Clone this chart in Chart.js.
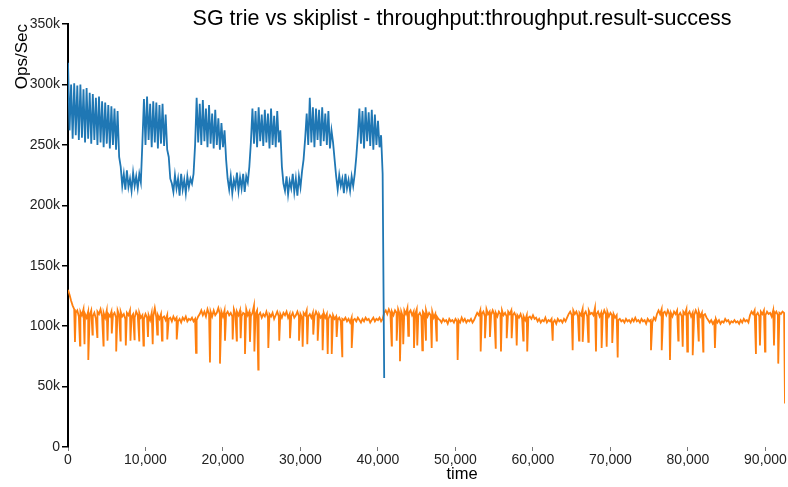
<!DOCTYPE html>
<html>
<head>
<meta charset="utf-8">
<script src="https://cdn.jsdelivr.net/npm/chart.js@4.4.1/dist/chart.umd.min.js"></script>
<style>
  html, body { margin: 0; padding: 0; background: #fff; }
  #wrap { width: 788px; height: 487px; }
</style>
</head>
<body>
<div id="wrap"><canvas id="chart" width="788" height="487"></canvas></div>
<script>
// SG trie throughput (k ops/sec), one sample every 200 time units
const trieStep = 200;
const trieOps = [
  318,262,300,255,301,258,299,254,300,256,
  296,252,297,255,293,251,292,254,289,250,
  290,252,286,248,285,251,283,247,282,250,
  280,246,278,240,232,216,226,213,229,215,
  222,212,227,216,224,214,226,219,252,288,
  250,290,254,284,248,286,252,285,247,283,
  251,284,249,275,246,240,222,218,211,225,
  214,222,208,226,213,221,210,224,215,222,
  218,226,250,289,252,284,250,287,253,280,
  248,283,251,276,247,279,250,272,246,268,
  248,262,238,222,213,224,210,221,215,227,
  212,223,214,226,211,224,219,232,252,280,
  251,278,248,281,253,275,249,279,252,276,
  247,280,250,274,248,278,252,262,232,218,
  212,224,209,220,214,226,211,222,208,224,
  215,228,238,255,276,250,289,252,281,248,
  280,254,279,249,281,253,276,250,278,247,
  262,252,238,224,213,225,216,222,210,226,
  214,221,212,224,216,226,240,258,280,251,
  278,247,281,253,277,249,279,246,275,250,
  270,248,258,226,57
];

// skiplist throughput (k ops/sec), base level every 200 time units
const skipStep = 200;
const skipBase = [
  130,126,121,117,114,111,113,108,112,109,
  114,110,107,112,109,113,108,111,106,112,
  110,114,108,111,107,113,110,108,112,109,
  111,107,113,109,112,108,110,106,111,109,
  113,108,110,107,112,109,111,107,109,106,
  110,107,109,105,111,108,115,107,109,106,
  110,107,108,105,109,106,107,104,108,105,
  107,104,106,103,107,105,108,104,106,105,
  107,104,106,105,108,110,113,109,112,108,
  114,110,112,108,113,109,111,115,110,112,
  108,113,110,112,109,111,108,114,110,112,
  109,113,108,111,110,114,109,112,108,111,
  117,110,113,109,111,107,110,108,112,107,
  110,108,111,106,109,112,108,110,107,111,
  109,112,107,110,108,111,107,109,112,108,
  110,107,111,109,113,108,110,107,111,108,
  112,109,110,107,109,111,107,110,106,109,
  107,109,106,108,105,107,104,106,105,107,
  104,106,103,107,105,106,104,107,105,103,
  106,104,107,105,106,103,105,107,104,106,
  105,107,104,106,111,113,110,114,111,112,
  109,113,111,114,110,112,108,113,110,115,
  111,113,109,112,110,114,109,111,108,112,
  110,113,108,111,109,112,107,110,108,106,
  105,103,106,104,105,102,106,104,105,103,
  106,104,105,103,107,104,106,103,105,104,
  106,103,105,108,111,109,113,110,112,108,
  114,110,112,109,113,110,111,108,112,110,
  113,109,111,108,112,110,113,109,111,108,
  109,107,110,106,108,105,109,107,108,106,
  109,106,107,104,106,103,105,104,107,103,
  105,104,106,103,105,102,106,104,105,103,
  106,104,107,110,112,109,113,110,112,108,
  111,109,114,110,112,108,113,110,111,109,
  115,110,112,108,111,109,113,110,112,108,
  111,109,110,107,109,105,106,104,105,103,
  106,104,105,103,106,104,107,104,105,103,
  106,104,105,102,106,104,105,103,107,105,
  110,113,110,114,111,112,109,113,110,111,
  108,112,110,113,109,111,108,112,110,114,
  110,112,108,111,109,113,110,112,108,111,
  109,110,107,105,103,105,102,104,106,103,
  105,102,104,103,106,104,105,102,104,103,
  105,103,104,102,105,103,106,104,105,103,
  109,112,110,113,109,111,108,112,110,113,
  109,112,110,111,108,113,110,112,109,111,
  110,112,111
];
// short drops of the skiplist series
const skipDipTime = [
  900,1550,2130,2620,3160,3780,4580,5100,5650,6220,
  6770,7460,8060,8580,9190,9740,10320,10930,11520,12130,
  12810,14030,16520,18320,19610,20260,21250,21770,22280,22840,
  23480,24050,24550,25850,27260,28650,29810,30280,30880,31650,
  32220,32860,33510,34030,34670,35390,36610,41770,42410,42840,
  43260,43910,44650,45070,45720,46190,46930,47570,50280,53250,
  53810,54450,55190,55870,56610,57250,57900,58750,59260,62540,
  65120,65940,66410,67140,68130,68860,69510,70230,70930,75230,
  76610,77680,78750,79320,79910,80610,81380,81970,83480,88770,
  89290,89940,91100,91650,92520
];
const skipDipOps = [
  87,84,85,72,93,91,84,88,94,79,
  88,84,88,89,88,84,91,85,93,88,
  89,89,78,70,69,88,89,88,90,77,
  87,79,64,82,88,90,88,83,85,93,
  88,80,77,77,91,75,82,84,88,71,
  85,92,82,84,80,88,82,88,72,79,
  90,91,82,79,90,90,84,88,79,88,
  80,88,87,87,79,82,83,86,74,80,
  80,72,88,83,79,76,88,79,82,77,
  84,79,84,69,36
];

const xTicks = [0, 10000, 20000, 30000, 40000, 50000, 60000, 70000, 80000, 90000];
const yTicks = [0, 50000, 100000, 150000, 200000, 250000, 300000, 350000];
const timeMax = 92520;

const triePoints = trieOps.map((v, i) => ({ x: i * trieStep, y: v * 1000 }));
const skipPoints = skipBase.map((v, i) => ({ x: i * skipStep, y: v * 1000 }))
  .concat(skipDipTime.map((t, i) => ({ x: t, y: skipDipOps[i] * 1000 })))
  .sort((a, b) => a.x - b.x);

const FONT = 'Arial, "Liberation Sans", sans-serif';

// title and x label sit off the plot centre in the original
const extraLabels = {
  id: 'extraLabels',
  afterDraw(chart) {
    const ctx = chart.ctx;
    ctx.save();
    ctx.fillStyle = '#000';
    ctx.textAlign = 'center';
    ctx.textBaseline = 'alphabetic';
    ctx.font = '21.5px ' + FONT;
    ctx.fillText('SG trie vs skiplist - throughput:throughput.result-success', 462, 25);
    ctx.font = '16.5px ' + FONT;
    ctx.fillText('time', 462, 479);
    ctx.restore();
  }
};

new Chart(document.getElementById('chart'), {
  type: 'line',
  data: {
    datasets: [{
      label: 'SG trie',
      data: triePoints,
      borderColor: '#1f77b4',
      borderWidth: 1.8,
      pointRadius: 0,
      tension: 0
    }, {
      label: 'skiplist',
      data: skipPoints,
      borderColor: '#ff7f0e',
      borderWidth: 1.8,
      pointRadius: 0,
      tension: 0
    }]
  },
  options: {
    responsive: false,
    animation: false,
    devicePixelRatio: 1,
    layout: { padding: { top: 24, right: 3, bottom: 0, left: 0 } },
    plugins: {
      legend: { display: false },
      tooltip: { enabled: false }
    },
    scales: {
      x: {
        type: 'linear',
        min: 0,
        max: timeMax,
        border: { display: false },
        grid: { drawOnChartArea: false, tickLength: 4, color: '#777' },
        afterBuildTicks: s => { s.ticks = xTicks.map(v => ({ value: v })); },
        ticks: {
          autoSkip: false,
          maxRotation: 0,
          padding: 1,
          color: '#222',
          font: { family: FONT, size: 14 },
          callback: v => v.toLocaleString('en-US')
        },
        afterFit: s => { s.height = 40; }
      },
      y: {
        min: 0,
        max: 350000,
        border: { display: true, color: '#000', width: 2 },
        grid: { drawOnChartArea: false, tickLength: 6, color: '#000', lineWidth: 1.5 },
        afterBuildTicks: s => { s.ticks = yTicks.map(v => ({ value: v })); },
        ticks: {
          padding: 2,
          color: '#222',
          font: { family: FONT, size: 14 },
          callback: v => v === 0 ? '0' : (v / 1000) + 'k'
        },
        title: {
          display: true,
          text: 'Ops/Sec',
          align: 'end',
          color: '#000',
          font: { family: FONT, size: 17 },
          padding: { top: 12, bottom: 0 }
        },
        afterFit: s => { s.width = 68; }
      }
    }
  },
  plugins: [extraLabels]
});
</script>
</body>
</html>
